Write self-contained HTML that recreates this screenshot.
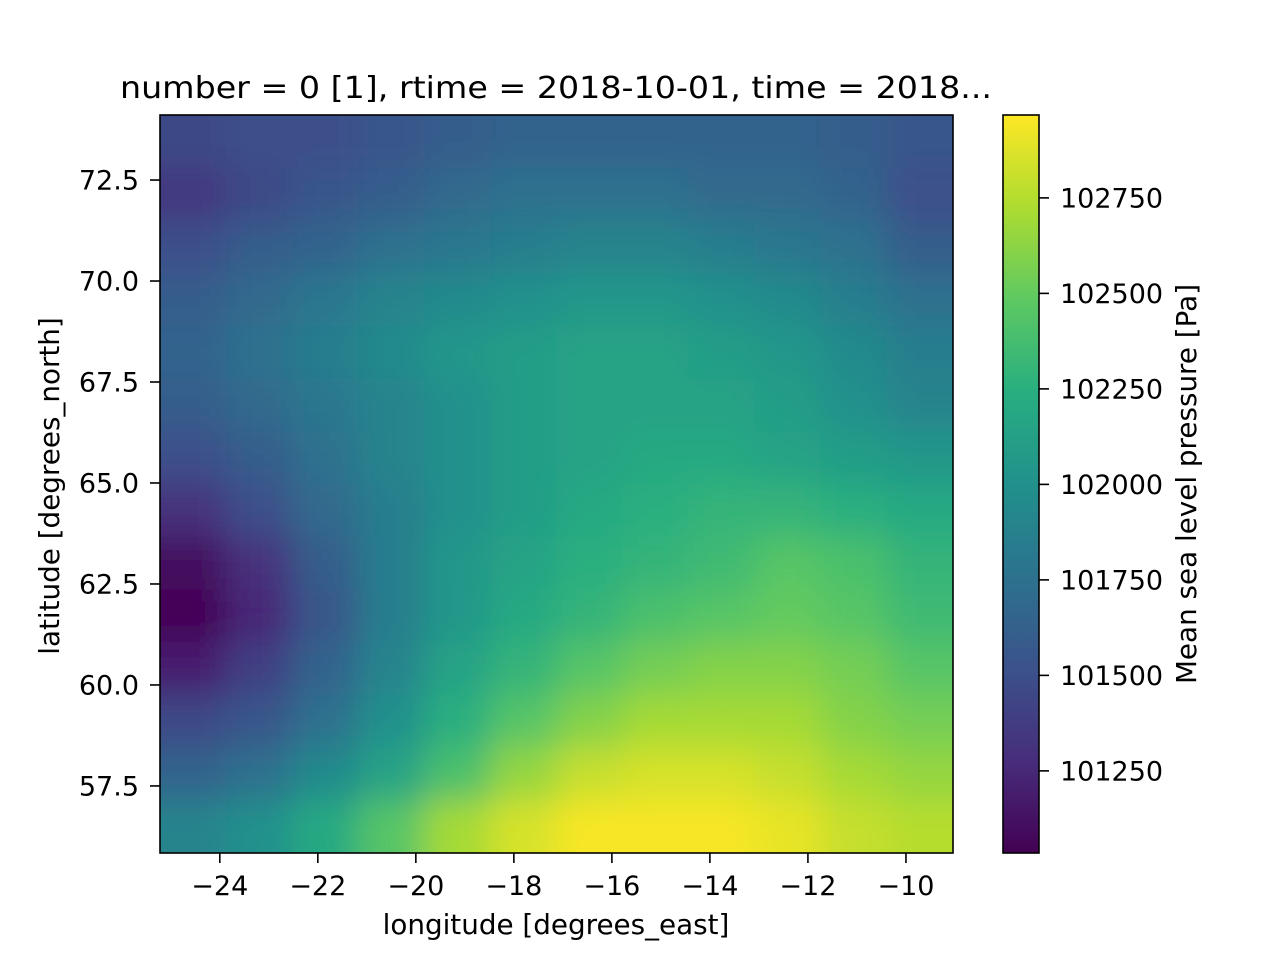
<!DOCTYPE html>
<html><head><meta charset="utf-8"><style>
body{margin:0;background:#fff;}
svg{display:block;font-family:"DejaVu Sans","Liberation Sans",sans-serif;}
</style></head><body>
<svg id="chart" width="1280" height="960" xmlns="http://www.w3.org/2000/svg">
<rect width="1280" height="960" fill="#fff"/>
<defs>
<filter id="smooth" x="40" y="0" width="1033" height="975" filterUnits="userSpaceOnUse">
<feGaussianBlur stdDeviation="17"/>
</filter>
<clipPath id="pc"><rect x="160" y="115" width="793" height="738"/></clipPath>
<linearGradient id="vg" x1="0" y1="1" x2="0" y2="0">
<stop offset="0" stop-color="#440154"/><stop offset="0.125" stop-color="#472d7b"/><stop offset="0.25" stop-color="#3b528b"/><stop offset="0.375" stop-color="#2c728e"/><stop offset="0.5" stop-color="#21918c"/><stop offset="0.625" stop-color="#28ae80"/><stop offset="0.75" stop-color="#5ec962"/><stop offset="0.875" stop-color="#addc30"/><stop offset="1" stop-color="#fde725"/></linearGradient></defs>
<text x="556" y="98" font-size="30" text-anchor="middle" textLength="872" lengthAdjust="spacingAndGlyphs">number = 0 [1], rtime = 2018-10-01, time = 2018...</text>
<g clip-path="url(#pc)"><g id="heat" filter="url(#smooth)"></g></g>
<rect x="160" y="115" width="793" height="738" fill="none" stroke="#000" stroke-width="1.6"/>
<g id="xt"></g>
<g id="yt"></g>
<text x="556" y="934" font-size="27.8" text-anchor="middle">longitude [degrees_east]</text>
<text transform="translate(59,486) rotate(-90)" font-size="27.8" text-anchor="middle">latitude [degrees_north]</text>
<rect x="1003" y="115" width="36" height="738" fill="url(#vg)" stroke="#000" stroke-width="1.6"/>
<g id="ct"></g>
<text transform="translate(1196,484) rotate(-90)" font-size="27.8" text-anchor="middle">Mean sea level pressure [Pa]</text>
</svg>
<script>
const lonRange=[-25.22,-9.04];
const latRange=[74.11,55.84];
const cRange=[101035,102967];
const xTicks=[-24,-22,-20,-18,-16,-14,-12,-10];
const xTickLabels=["−24","−22","−20","−18","−16","−14","−12","−10"];
const yTicks=[57.5,60,62.5,65,67.5,70,72.5];
const yTickLabels=["57.5","60.0","62.5","65.0","67.5","70.0","72.5"];
const cTicks=[101250,101500,101750,102000,102250,102500,102750];
const grid=[
[101450,101500,101500,101550,101600,101650,101650,101650,101650,101650,101600,101550],
[101350,101450,101550,101600,101700,101750,101750,101750,101700,101700,101650,101500],
[101500,101600,101650,101750,101800,101850,101900,101900,101850,101800,101750,101600],
[101600,101700,101800,101900,101950,102000,102050,102050,102000,101950,101850,101750],
[101650,101750,101850,101950,102050,102100,102150,102150,102100,102050,101950,101850],
[101600,101700,101800,101900,102000,102100,102150,102150,102150,102100,102000,101900],
[101500,101600,101750,101900,102000,102100,102150,102200,102200,102150,102100,102050],
[101300,101500,101700,101850,102000,102100,102200,102250,102300,102300,102250,102200],
[101100,101300,101600,101850,102050,102150,102250,102300,102350,102450,102400,102300],
[101050,101250,101550,101850,102050,102200,102300,102400,102450,102500,102450,102350],
[101200,101400,101650,101900,102150,102300,102450,102550,102600,102600,102550,102450],
[101450,101550,101750,102000,102250,102450,102600,102700,102700,102700,102600,102550],
[101650,101750,101950,102150,102400,102650,102800,102850,102850,102800,102700,102650],
[101900,102000,102200,102450,102700,102850,102950,102950,102950,102900,102800,102750]];
const NS="http://www.w3.org/2000/svg";
const X=v=>160+(v-lonRange[0])/(lonRange[1]-lonRange[0])*793;
const Y=v=>115+(v-latRange[0])/(latRange[1]-latRange[0])*738;
const C=v=>853-(v-cRange[0])/(cRange[1]-cRange[0])*738;
const stops=[[68,1,84],[71,45,123],[59,82,139],[44,114,142],[33,145,140],[40,174,128],[94,201,98],[173,220,48],[253,231,37]];
function vir(v){let t=(v-cRange[0])/(cRange[1]-cRange[0]);t=Math.max(0,Math.min(1,t))*8;const i=Math.min(7,Math.floor(t)),f=t-i;const a=stops[i],b=stops[i+1];return `rgb(${a.map((c,k)=>Math.round(c+(b[k]-c)*f)).join(',')})`;}
function mk(tag,at,parent){const e=document.createElementNS(NS,tag);for(const k in at)e.setAttribute(k,at[k]);parent.appendChild(e);return e;}
const heat=document.getElementById('heat');
const rows=grid.length,cols=grid[0].length;
const dLon=(lonRange[1]-lonRange[0])/cols,dLat=(latRange[1]-latRange[0])/rows;
const PAD=90;
grid.forEach((row,r)=>row.forEach((v,c)=>{
 let x0=X(lonRange[0]+c*dLon),x1=X(lonRange[0]+(c+1)*dLon),y0=Y(latRange[0]+r*dLat),y1=Y(latRange[0]+(r+1)*dLat);
 if(c===0)x0-=PAD; if(c===cols-1)x1+=PAD; if(r===0)y0-=PAD; if(r===rows-1)y1+=PAD;
 const e=mk('rect',{x:x0,y:y0,width:x1-x0+0.6,height:y1-y0+0.6,fill:vir(v)},heat);
 
 
}));
const xt=document.getElementById('xt');
xTicks.forEach((v,i)=>{const x=X(v);
 const l=mk('line',{x1:x,x2:x,y1:853,y2:863,stroke:'#000','stroke-width':1.6},xt);
 
 
 const t=mk('text',{x:x,y:895,'font-size':27,'text-anchor':'middle'},xt);t.textContent=xTickLabels[i];
 
 
});
const yt=document.getElementById('yt');
yTicks.forEach((v,i)=>{const y=Y(v);
 const l=mk('line',{x1:150,x2:160,y1:y,y2:y,stroke:'#000','stroke-width':1.6},yt);
 
 
 const t=mk('text',{x:139,y:y+9.5,'font-size':27,'text-anchor':'end'},yt);t.textContent=yTickLabels[i];
 
 
});
const ct=document.getElementById('ct');
cTicks.forEach(v=>{const y=C(v);
 const l=mk('line',{x1:1039,x2:1049,y1:y,y2:y,stroke:'#000','stroke-width':1.6},ct);
 
 
 const t=mk('text',{x:1060,y:y+9.5,'font-size':27},ct);t.textContent=String(v);
 
 
});
</script>
</body></html>
